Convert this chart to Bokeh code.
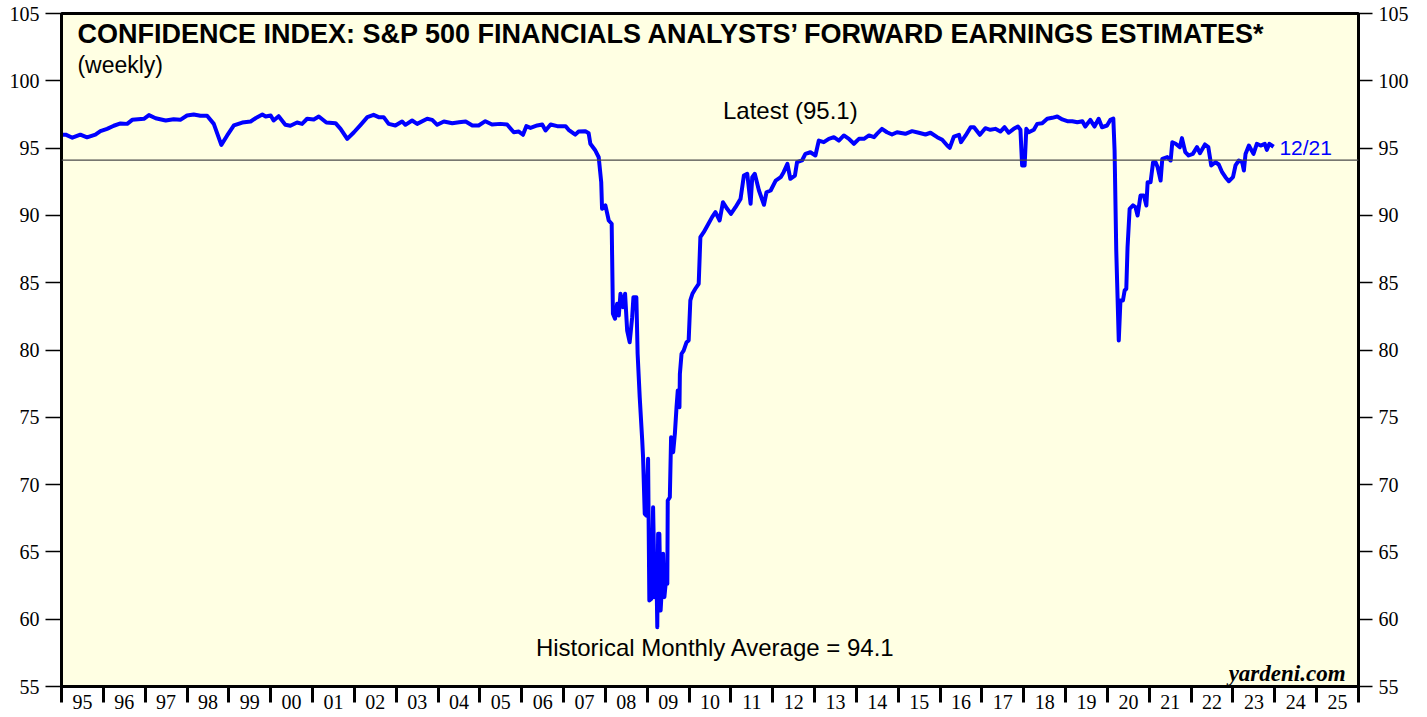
from bokeh.plotting import figure
from bokeh.models import (FixedTicker, LinearAxis, Span, Label, Range1d, ColumnDataSource)
from bokeh.embed import file_html
from bokeh.resources import INLINE

# ---------------- data (decimal year, index value) ----------------
years = [
    1995.02, 1995.10, 1995.26, 1995.45, 1995.61, 1995.81, 1995.93, 1996.09, 1996.25, 1996.41,
    1996.57, 1996.69, 1996.97, 1997.09, 1997.25, 1997.49, 1997.68, 1997.84, 1998.00, 1998.16,
    1998.32, 1998.48, 1998.64, 1998.82, 1998.96, 1999.12, 1999.32, 1999.52, 1999.68, 1999.80,
    1999.88, 2000.00, 2000.07, 2000.19, 2000.35, 2000.47, 2000.63, 2000.75, 2000.87, 2001.03,
    2001.15, 2001.33, 2001.55, 2001.67, 2001.83, 2001.99, 2002.15, 2002.31, 2002.46, 2002.58,
    2002.70, 2002.82, 2002.98, 2003.14, 2003.22, 2003.38, 2003.50, 2003.74, 2003.86, 2003.98,
    2004.14, 2004.34, 2004.50, 2004.66, 2004.82, 2004.97, 2005.13, 2005.29, 2005.49, 2005.65,
    2005.81, 2005.93, 2006.03, 2006.11, 2006.21, 2006.37, 2006.49, 2006.57, 2006.69, 2006.85,
    2007.05, 2007.12, 2007.28, 2007.36, 2007.52, 2007.60, 2007.64, 2007.76, 2007.84, 2007.90,
    2007.92, 2008.00, 2008.08, 2008.15, 2008.18, 2008.23, 2008.28, 2008.32, 2008.36, 2008.42,
    2008.47, 2008.52, 2008.58, 2008.64, 2008.67, 2008.74, 2008.77, 2008.82, 2008.88, 2008.90,
    2008.94, 2008.98, 2009.02, 2009.05, 2009.10, 2009.14, 2009.18, 2009.22, 2009.24, 2009.26,
    2009.29, 2009.32, 2009.36, 2009.38, 2009.41, 2009.44, 2009.48, 2009.49, 2009.54, 2009.57,
    2009.62, 2009.66, 2009.70, 2009.73, 2009.77, 2009.78, 2009.82, 2009.87, 2009.94, 2009.99,
    2010.03, 2010.08, 2010.15, 2010.23, 2010.27, 2010.35, 2010.43, 2010.55, 2010.63, 2010.73,
    2010.81, 2010.91, 2011.00, 2011.11, 2011.23, 2011.31, 2011.39, 2011.47, 2011.51, 2011.57,
    2011.67, 2011.79, 2011.85, 2011.95, 2012.07, 2012.19, 2012.26, 2012.35, 2012.42, 2012.53,
    2012.58, 2012.70, 2012.78, 2012.90, 2013.02, 2013.10, 2013.22, 2013.34, 2013.46, 2013.58,
    2013.70, 2013.82, 2013.94, 2014.06, 2014.18, 2014.30, 2014.42, 2014.49, 2014.61, 2014.73,
    2014.85, 2014.97, 2015.17, 2015.33, 2015.49, 2015.65, 2015.77, 2015.93, 2016.05, 2016.17,
    2016.23, 2016.33, 2016.45, 2016.50, 2016.61, 2016.73, 2016.81, 2016.95, 2017.08, 2017.20,
    2017.32, 2017.44, 2017.54, 2017.64, 2017.76, 2017.86, 2017.92, 2017.96, 2018.02, 2018.06,
    2018.12, 2018.24, 2018.32, 2018.44, 2018.56, 2018.68, 2018.80, 2018.92, 2019.04, 2019.16,
    2019.28, 2019.40, 2019.47, 2019.59, 2019.69, 2019.79, 2019.87, 2019.99, 2020.07, 2020.14,
    2020.17, 2020.21, 2020.27, 2020.31, 2020.37, 2020.41, 2020.45, 2020.48, 2020.53, 2020.61,
    2020.67, 2020.72, 2020.79, 2020.87, 2020.93, 2020.96, 2021.03, 2021.09, 2021.15, 2021.20,
    2021.27, 2021.31, 2021.43, 2021.51, 2021.55, 2021.63, 2021.73, 2021.78, 2021.86, 2021.94,
    2022.04, 2022.14, 2022.21, 2022.33, 2022.41, 2022.48, 2022.58, 2022.66, 2022.74, 2022.82,
    2022.90, 2023.00, 2023.06, 2023.14, 2023.22, 2023.26, 2023.30, 2023.38, 2023.49, 2023.57,
    2023.66, 2023.76, 2023.81, 2023.87, 2023.97,
]
index_values = [
    96.00, 96.00, 95.77, 96.00, 95.80, 96.00, 96.26, 96.43, 96.66, 96.83,
    96.80, 97.10, 97.18, 97.45, 97.22, 97.05, 97.15, 97.10, 97.42, 97.50,
    97.40, 97.40, 96.80, 95.24, 95.94, 96.68, 96.90, 96.98, 97.30, 97.50,
    97.35, 97.42, 97.05, 97.37, 96.73, 96.66, 96.90, 96.80, 97.18, 97.13,
    97.35, 96.90, 96.85, 96.43, 95.69, 96.18, 96.73, 97.30, 97.47, 97.30,
    97.30, 96.80, 96.68, 96.98, 96.73, 97.05, 96.80, 97.18, 97.10, 96.73,
    96.98, 96.85, 96.92, 96.98, 96.68, 96.68, 97.00, 96.75, 96.80, 96.75,
    96.18, 96.23, 95.99, 96.63, 96.50, 96.68, 96.75, 96.31, 96.75, 96.63,
    96.63, 96.36, 96.00, 96.23, 96.26, 96.10, 95.32, 94.82, 94.32, 92.47,
    90.49, 90.74, 89.62, 89.38, 82.69, 82.32, 83.43, 82.56, 84.18, 83.18,
    84.18, 81.45, 80.58, 82.44, 83.92, 83.92, 79.72, 76.50, 73.28, 72.04,
    67.83, 67.70, 71.92, 61.39, 61.52, 68.32, 61.64, 63.62, 59.41, 66.34,
    66.34, 60.65, 62.88, 64.86, 61.64, 62.63, 62.63, 68.82, 69.06, 73.52,
    72.41, 73.77, 75.75, 76.99, 75.75, 78.23, 79.72, 79.96, 80.58, 80.71,
    83.68, 84.18, 84.55, 84.92, 88.38, 88.75, 89.20, 89.87, 90.24, 89.62,
    90.98, 90.49, 90.12, 90.61, 91.23, 92.96, 93.09, 90.86, 92.84, 93.09,
    91.85, 90.79, 91.72, 91.85, 92.59, 92.84, 93.21, 93.83, 92.72, 92.96,
    93.95, 94.08, 94.57, 94.69, 94.45, 95.56, 95.44, 95.69, 95.81, 95.56,
    95.94, 95.69, 95.32, 95.69, 95.69, 95.94, 95.81, 96.06, 96.43, 96.18,
    96.01, 96.18, 96.06, 96.26, 96.14, 96.01, 96.14, 95.81, 95.62, 95.19,
    95.02, 95.86, 95.99, 95.44, 95.94, 96.55, 96.55, 95.99, 96.48, 96.36,
    96.43, 96.23, 96.55, 96.14, 96.43, 96.60, 96.36, 93.71, 93.71, 96.43,
    96.18, 96.36, 96.80, 96.85, 97.18, 97.25, 97.35, 97.13, 97.00, 97.00,
    96.92, 97.00, 96.60, 97.10, 96.60, 97.18, 96.55, 96.68, 97.10, 97.20,
    94.82, 87.39, 80.71, 83.68, 83.68, 84.42, 84.55, 87.64, 90.49, 90.74,
    90.61, 89.99, 91.48, 91.48, 90.74, 92.47, 92.47, 93.95, 93.95, 93.58,
    92.59, 94.20, 94.33, 94.08, 95.44, 95.32, 95.07, 95.74, 94.70, 94.45,
    94.57, 95.07, 94.62, 95.27, 95.07, 93.71, 93.95, 93.78, 93.21, 92.84,
    92.54, 92.84, 93.71, 94.08, 93.95, 93.34, 94.57, 95.19, 94.57, 95.32,
    95.19, 95.32, 94.87, 95.32, 95.10,
]
historical_avg = 94.1
latest_value = 95.1
latest_date = "12/21"
y_ticks = [55, 60, 65, 70, 75, 80, 85, 90, 95, 100, 105]
year_bounds = list(range(1995, 2027))
year_labels = ["95", "96", "97", "98", "99", "00", "01", "02", "03", "04", "05",
               "06", "07", "08", "09", "10", "11", "12", "13", "14", "15", "16",
               "17", "18", "19", "20", "21", "22", "23", "24", "25"]

title_text = "CONFIDENCE INDEX: S&P 500 FINANCIALS ANALYSTS\u2019 FORWARD EARNINGS ESTIMATES*"

# ---------------- figure ----------------
p = figure(width=1427, height=717, output_backend="svg", toolbar_location=None,
           x_range=Range1d(1995, 2026), y_range=Range1d(55, 105),
           min_border_left=61, min_border_right=69, min_border_top=13, min_border_bottom=31)
p.background_fill_color = "#FFFFE3"
p.border_fill_color = "white"
p.outline_line_color = "black"
p.outline_line_width = 3
p.xgrid.visible = False
p.ygrid.visible = False

serif = "Liberation Serif"
sans = "Liberation Sans"

# left axis
ya = p.yaxis[0]
ya.ticker = FixedTicker(ticks=y_ticks)
ya.major_tick_out = 16
ya.major_tick_in = 0
ya.major_tick_line_width = 1.5
ya.minor_tick_line_color = None
ya.axis_line_width = 3
ya.major_label_text_font = serif
ya.major_label_text_font_size = "20px"
ya.major_label_text_color = "black"
ya.major_label_standoff = 6

# right axis
ra = LinearAxis(ticker=FixedTicker(ticks=y_ticks))
ra.major_tick_out = 14
ra.major_tick_in = 0
ra.major_tick_line_width = 1.5
ra.minor_tick_line_color = None
ra.axis_line_width = 3
ra.major_label_text_font = serif
ra.major_label_text_font_size = "20px"
ra.major_label_text_color = "black"
ra.major_label_standoff = 6
p.add_layout(ra, "right")

# bottom axis: labels mid-year, ticks at year boundaries (minor ticks)
mids = [b + 0.5 for b in year_bounds[:-1]]
xa = p.xaxis[0]
xa.ticker = FixedTicker(ticks=mids, minor_ticks=year_bounds)
xa.major_label_overrides = {m: lab for m, lab in zip(mids, year_labels)}
xa.major_tick_out = 0
xa.major_tick_in = 0
xa.major_tick_line_color = None
xa.minor_tick_out = 16
xa.minor_tick_in = 0
xa.minor_tick_line_width = 3
xa.minor_tick_line_color = "black"
xa.axis_line_width = 3
xa.major_label_text_font = serif
xa.major_label_text_font_size = "20px"
xa.major_label_text_color = "black"
xa.major_label_standoff = -8

# historical average line
p.add_layout(Span(location=historical_avg, dimension="width", line_color="#4a4a4a", line_width=1.2))

# data line
src = ColumnDataSource(dict(x=years, y=index_values))
p.line("x", "y", source=src, line_color="#0000FF", line_width=4, line_join="round")

# texts
p.add_layout(Label(x=1995.38, y=103.51, text=title_text, text_font=sans, text_font_style="bold",
                   text_font_size="27px", text_baseline="middle", text_align="left", text_color="black"))
p.add_layout(Label(x=1995.38, y=101.2, text="(weekly)", text_font=sans,
                   text_font_size="23px", text_baseline="middle", text_align="left", text_color="black"))
p.add_layout(Label(x=2012.42, y=97.8, text=f"Latest ({latest_value})", text_font=sans,
                   text_font_size="24px", text_baseline="middle", text_align="center", text_color="black"))
p.add_layout(Label(x=2010.63, y=57.9, text=f"Historical Monthly Average = {historical_avg}", text_font=sans,
                   text_font_size="24px", text_baseline="middle", text_align="center", text_color="black"))
p.add_layout(Label(x=2024.11, y=95.04, text=latest_date, text_font=sans,
                   text_font_size="21px", text_baseline="middle", text_align="left", text_color="#0000FF"))
p.add_layout(Label(x=2025.69, y=56.0, text="yardeni.com", text_font=serif, text_font_style="bold italic",
                   text_font_size="23px", text_baseline="alphabetic", text_align="right", text_color="black"))

open("out.html", "w").write(file_html(p, INLINE))
